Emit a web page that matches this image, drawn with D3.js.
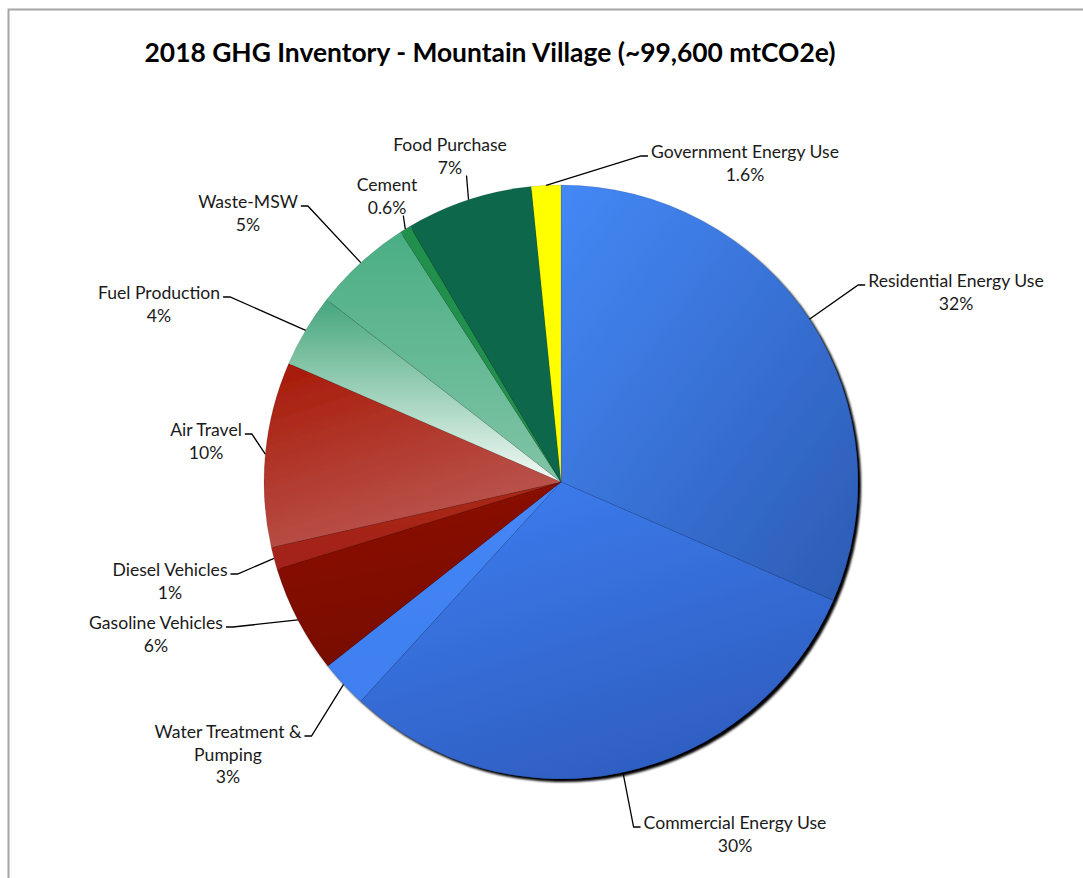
<!DOCTYPE html>
<html>
<head>
<meta charset="utf-8">
<script src="https://cdn.jsdelivr.net/npm/d3@7"></script>
<style>
  html, body { margin: 0; padding: 0; background: #fff; }
  svg { display: block; }
</style>
</head>
<body>
<svg id="chart" width="1083" height="878"></svg>
<script>
// ---- data ----
const categories = [
  "Residential Energy Use", "Commercial Energy Use", "Water Treatment & Pumping",
  "Gasoline Vehicles", "Diesel Vehicles", "Air Travel", "Fuel Production",
  "Waste-MSW", "Cement", "Food Purchase", "Government Energy Use"
];
const values = [31.6, 30.3, 2.6, 5.9, 1.2, 10.1, 4.0, 5.4, 0.6, 6.9, 1.6];
const percentLabels = ["32%", "30%", "3%", "6%", "1%", "10%", "4%", "5%", "0.6%", "7%", "1.6%"];
const labelLines = [
  ["Residential Energy Use"], ["Commercial Energy Use"], ["Water Treatment &", "Pumping"],
  ["Gasoline Vehicles"], ["Diesel Vehicles"], ["Air Travel"], ["Fuel Production"],
  ["Waste-MSW"], ["Cement"], ["Food Purchase"], ["Government Energy Use"]
];
const title = "2018 GHG Inventory - Mountain Village (~99,600 mtCO2e)";

// ---- styles ----
const gradStops = [
  ["#4488f6", "#2c5bb4"], ["#3e7ff3", "#2f5fc2"], ["#4586f6", "#3f7fef"],
  ["#8f1406", "#760b00"], ["#aa2718", "#a2221a"], ["#a71806", "#bb5852"],
  ["#44a67b", "#f4faf7"], ["#4aae83", "#80c4a6"], ["#24904e", "#24904e"],
  ["#0c684b", "#0c684b"], ["#ffff00", "#ffff00"]
];
const gradDir = [
  [0, 0, 1, 1], [0, 0, 0.5, 1], [0, 0, 0, 1], [0, 0, 0.3, 1], [0, 0, 0, 1],
  [0, 0, 0.5, 1], [0, 0, 0, 1], [0, 0, 0, 1], [0, 0, 0, 1], [0, 0, 0, 1], [0, 0, 0, 1]
];
// label layout: text centre offset from pie centre, side of leader
const labelLayout = [
  {dx: 395, dy: -201, side: "right"},
  {dx: 174, dy: 341, side: "right"},
  {dx: -333, dy: 250, side: "left"},
  {dx: -405, dy: 141, side: "left"},
  {dx: -391, dy: 88, side: "left"},
  {dx: -355, dy: -52, side: "left"},
  {dx: -402, dy: -189, side: "left"},
  {dx: -313, dy: -280, side: "left"},
  {dx: -174, dy: -297, side: "top"},
  {dx: -111, dy: -337, side: "top"},
  {dx: 184, dy: -330, side: "right"}
];

const W = 1083, H = 878;
const cx = 561, cy = 482, R = 297;
const fontFam = "Lato, 'Open Sans', sans-serif";
const fs = 17.6;
const lineH = 22.5;

const svg = d3.select("#chart");
const defs = svg.append("defs");

// frame
svg.append("path")
  .attr("d", `M8.5,${H} L8.5,9.5 L${W},9.5`)
  .attr("fill", "none").attr("stroke", "#a6a6a6").attr("stroke-width", 2);

// title
svg.append("text")
  .attr("x", 490).attr("y", 62)
  .attr("text-anchor", "middle")
  .attr("font-family", fontFam)
  .attr("font-weight", "bold")
  .attr("font-size", 26.4)
  .attr("fill", "#000")
  .text(title);

// gradients
values.forEach((v, i) => {
  const g = defs.append("linearGradient").attr("id", "g" + i)
    .attr("x1", gradDir[i][0]).attr("y1", gradDir[i][1])
    .attr("x2", gradDir[i][2]).attr("y2", gradDir[i][3]);
  g.append("stop").attr("offset", 0).attr("stop-color", gradStops[i][0]);
  g.append("stop").attr("offset", 1).attr("stop-color", gradStops[i][1]);
});

const shadow = defs.append("filter").attr("id", "shadow")
  .attr("x", "-10%").attr("y", "-10%").attr("width", "120%").attr("height", "120%");
shadow.append("feGaussianBlur").attr("in", "SourceAlpha").attr("stdDeviation", 1).attr("result", "b");
shadow.append("feOffset").attr("in", "b").attr("dx", 2.5).attr("dy", 2.5).attr("result", "o");
shadow.append("feComponentTransfer").attr("in", "o").attr("result", "o2")
  .append("feFuncA").attr("type", "linear").attr("slope", 1);
const merge = shadow.append("feMerge");
merge.append("feMergeNode").attr("in", "o2");
merge.append("feMergeNode").attr("in", "SourceGraphic");

const pie = d3.pie().sort(null).value(d => d)(values);
const arc = d3.arc().innerRadius(0).outerRadius(R);

const g = svg.append("g").attr("transform", `translate(${cx},${cy})`);
const pieG = g.append("g").attr("filter", "url(#shadow)");
pieG.selectAll("path.slice")
  .data(pie)
  .enter().append("path")
  .attr("class", "slice")
  .attr("d", arc)
  .attr("fill", (d, i) => `url(#g${i})`)
  .attr("stroke", "rgba(0,0,0,0.18)")
  .attr("stroke-width", 0.6);

// labels
const labG = g.append("g");
pie.forEach((d, i) => {
  const L = labelLayout[i];
  const lines = labelLines[i].concat([percentLabels[i]]);
  const t = labG.append("text")
    .attr("font-family", fontFam)
    .attr("font-size", fs)
    .attr("fill", "#1a1a1a")
    .attr("text-anchor", "middle");
  lines.forEach((s, k) => {
    t.append("tspan").attr("x", L.dx).attr("y", L.dy + k * lineH + fs * 0.35).text(s);
  });
  const w0 = t.select("tspan").node().getComputedTextLength();
  const mid = (d.startAngle + d.endAngle) / 2;
  const ex = R * Math.sin(mid), ey = -R * Math.cos(mid);
  let pts;
  if (L.side === "right") {
    const xl = L.dx - w0 / 2;
    pts = [[ex, ey], [xl - 10, L.dy + 4], [xl - 3, L.dy + 4]];
  } else if (L.side === "left") {
    const xr = L.dx + w0 / 2;
    pts = [[ex, ey], [xr + 10, L.dy + 4], [xr + 3, L.dy + 4]];
  } else {
    const yl = L.dy + (lines.length - 1) * lineH + 8;
    pts = [[ex, ey], [ex - 2, yl]];
  }
  labG.append("path")
    .attr("d", d3.line()(pts))
    .attr("fill", "none").attr("stroke", "#000").attr("stroke-width", 1.3);
});
</script>
</body>
</html>
